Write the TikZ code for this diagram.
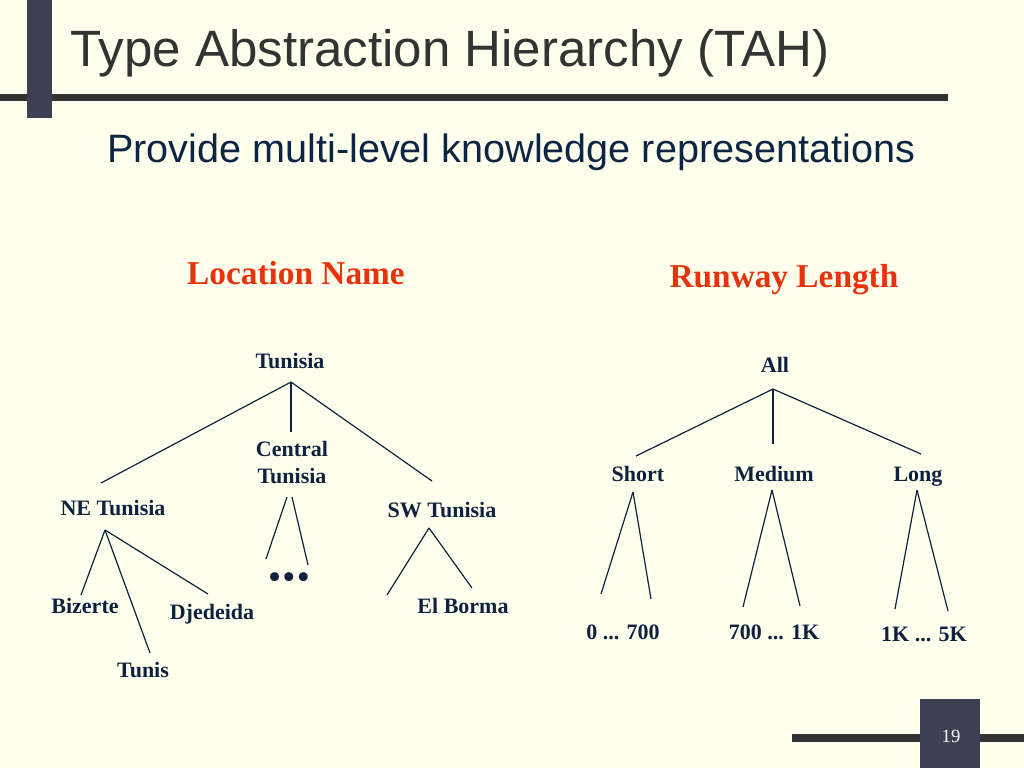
\documentclass[tikz,border=0pt]{standalone}
\usepackage{fontspec}
\setmainfont{Liberation Serif}
\newfontfamily\arialfont{Liberation Sans}
\usepackage{xcolor}
\definecolor{paper}{HTML}{FFFFEE}
\definecolor{barblue}{HTML}{3C4055}
\definecolor{rulegray}{HTML}{333333}
\definecolor{inkblue}{HTML}{0E2240}
\definecolor{subblue}{HTML}{0D2545}
\definecolor{headred}{HTML}{E8320A}
\tikzset{
	lbl/.style={anchor=base, inner sep=0pt, text=inkblue, font=\fontsize{16.5}{20}\selectfont\bfseries},
	head/.style={anchor=base, inner sep=0pt, text=headred, font=\fontsize{25}{30}\selectfont\bfseries},
	edge/.style={draw=inkblue, line width=0.9pt}
}

\begin{document}
\begin{tikzpicture}[x=0.75pt,y=-0.75pt]
				\fill[paper] (0,0) rectangle (1024,768);
				\useasboundingbox (0,0) rectangle (1024,768);
				
				% frame
				\fill[rulegray] (0,94) rectangle (948,101);
				\fill[barblue] (27,0) rectangle (52,118);
				\fill[rulegray] (792,734) rectangle (1024,742);
				\fill[barblue] (920,699) rectangle (980,768);
				\node[inner sep=0pt, text=white, font=\fontsize{14}{16}\selectfont] (page) at (951,736) {19};
				
				\node[anchor=base west, inner sep=0pt, text=rulegray, font=\arialfont\fontsize{38.3}{44}\selectfont] (title) at (70,66) {Type Abstraction Hierarchy (TAH)};
				\node[anchor=base west, inner sep=0pt, text=subblue, font=\arialfont\fontsize{29.7}{34}\selectfont] (sub) at (107,162) {Provide multi-level knowledge representations};
				
				\node[head] (locname) at (296,284) {Location Name};
				\node[head] (runway) at (784,287) {Runway Length};
				
				% location tree
				\node[lbl] (tunisia) at (290,368) {Tunisia};
				\node[lbl, align=center] (central) at (292,483) {Central\\Tunisia};
				\node[lbl] (netun) at (113,515) {NE Tunisia};
				\node[lbl] (swtun) at (442,517) {SW Tunisia};
				\node[lbl] (bizerte) at (85,613) {Bizerte};
				\node[lbl] (tunis) at (143,677) {Tunis};
				\node[lbl] (djedeida) at (212,619) {Djedeida};
				\node[lbl] (elborma) at (463,613) {El Borma};
				\node[inner sep=0pt, text=inkblue, font=\fontsize{28}{30}\selectfont] (dots) at (289,581) {\textbullet\kern1pt\textbullet\kern1pt\textbullet};
				
				% runway tree
				\node[lbl] (all) at (775,372) {All};
				\node[lbl] (short) at (638,481) {Short};
				\node[lbl] (medium) at (774,481) {Medium};
				\node[lbl] (long) at (918,481) {Long};
				\node[lbl] (sbin) at (623,639) {0 ... 700};
				\node[lbl] (mbin) at (774,639) {700 ... 1K};
				\node[lbl] (lbin) at (924,641) {1K ... 5K};
				
				\foreach \x/\y/\z in
				{TA/291/382, NE/101/483, CE/291/432, SW/432/481,
				 NA/105/530, BI/81/595, TU/150/653, DJ/208/594,
				 CA/287/497, CB/292/497, CL/266/559, CR/308/565,
				 SA/429/528, SL/387/595, SR/472/588}{
					\coordinate(\x) at (\y,\z);
				}
				\foreach \x/\y/\z in
				{AA/773/389, SH/636/456, ME/773/444, LO/921/454,
				 HA/633/492, H1/601/594, H2/651/599,
				 MA/772/490, M1/743/607, M2/800/606,
				 LA/917/490, L1/895/609, L2/948/611}{
					\coordinate(\x) at (\y,\z);
				}
				
				\foreach \x/\y in
				{TA/NE,TA/CE,TA/SW,NA/BI,NA/TU,NA/DJ,CA/CL,CB/CR,SA/SL,SA/SR,
				 AA/SH,AA/ME,AA/LO,HA/H1,HA/H2,MA/M1,MA/M2,LA/L1,LA/L2}{
					\draw[edge] (\x)--(\y);
				}
			\end{tikzpicture}
\end{document}
